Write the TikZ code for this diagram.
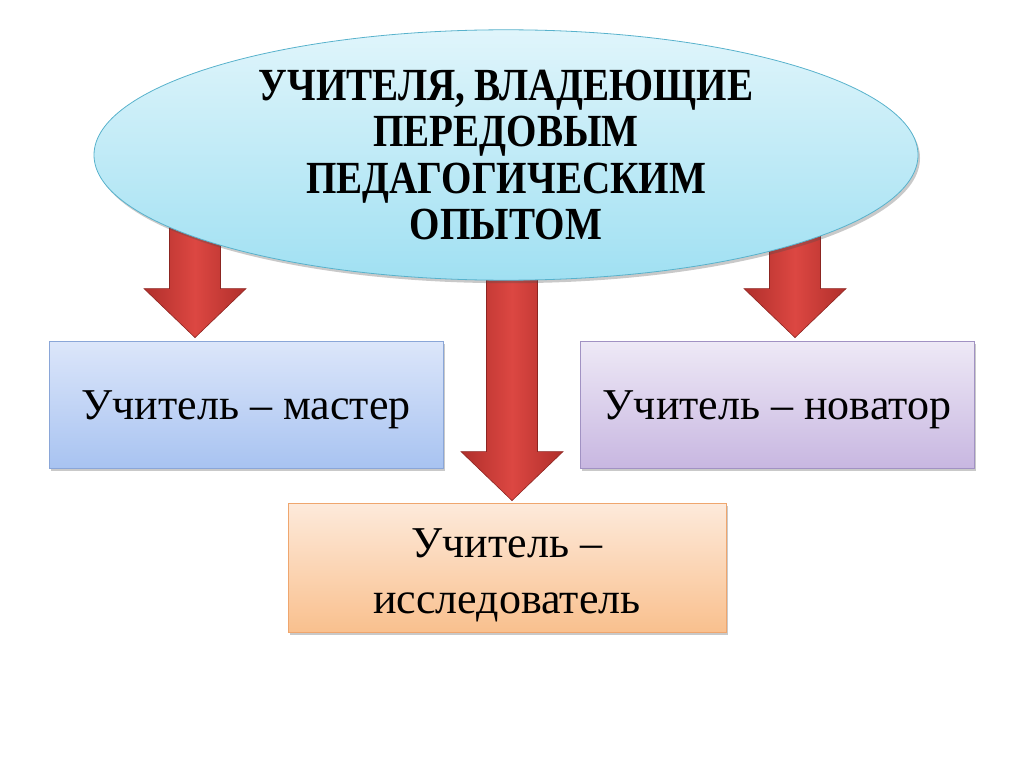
\documentclass[tikz,border=0pt]{standalone}
\usepackage{fontspec}
\setmainfont{Liberation Serif}
\newfontfamily\headfont{Liberation Serif}[FakeStretch=0.85]
\usetikzlibrary{shapes.geometric,shadows,calc,backgrounds}
\definecolor{elltop}{HTML}{E0F5FB}
\definecolor{ellbot}{HTML}{A0E0F2}
\definecolor{elledge}{HTML}{58B2CC}
\definecolor{bluetop}{HTML}{DCE6FA}
\definecolor{bluebot}{HTML}{A8C3F1}
\definecolor{blueedge}{HTML}{8AA6D8}
\definecolor{violtop}{HTML}{EEE9F6}
\definecolor{violbot}{HTML}{C8B7E1}
\definecolor{violedge}{HTML}{A192C3}
\definecolor{orgtop}{HTML}{FDEADB}
\definecolor{orgbot}{HTML}{F9C08E}
\definecolor{orgedge}{HTML}{EFA66E}
\definecolor{arrdark}{HTML}{B02F2B}
\definecolor{arrlight}{HTML}{DC4742}
\definecolor{arredge}{HTML}{8C2521}
\newcommand{\blockarrow}[2]{%
  \path[redarrow] let \p1=(#1), \p2=(#2) in
    (\x2-25.5pt,\y1) -- (\x2+25.5pt,\y1) -- (\x2+25.5pt,\y2+49pt)
    -- (\x2+51pt,\y2+49pt) -- (\x2,\y2) -- (\x2-51pt,\y2+49pt)
    -- (\x2-25.5pt,\y2+49pt) -- cycle;}
\newcommand{\tallstrut}[1]{\rule{0pt}{#1}}
\begin{document}
\begin{tikzpicture}[x=1pt,y=-1pt,
  softshadow/.style={drop shadow={shadow xshift=2pt,shadow yshift=-3pt,opacity=0.3,fill=black!70}},
  topell/.style={ellipse,minimum width=824pt,minimum height=240pt,
    top color=elltop,bottom color=ellbot,draw=elledge,line width=0.8pt,
    align=center,softshadow,
    font=\headfont\bfseries\fontsize{46}{46.5}\selectfont},
  kindbox/.style={rectangle,draw,line width=0.8pt,align=center,softshadow,
    inner sep=0pt,font=\fontsize{44}{56}\selectfont},
  redarrow/.style={left color=arrdark,right color=arrdark,middle color=arrlight,
    draw=arredge,line width=0.6pt}]
\useasboundingbox (0,0) rectangle (1024,767);

\node[kindbox,minimum width=394pt,minimum height=127pt,
  top color=bluetop,bottom color=bluebot,draw=blueedge]
  (master) at (246,404.5) {\tallstrut{40pt}Учитель – мастер};
\node[kindbox,minimum width=394pt,minimum height=127pt,
  top color=violtop,bottom color=violbot,draw=violedge]
  (novator) at (777,404.5) {\tallstrut{40pt}Учитель – новатор};
\node[kindbox,minimum width=438pt,minimum height=129pt,
  top color=orgtop,bottom color=orgbot,draw=orgedge]
  (issled) at (507,567.5) {\tallstrut{45pt}Учитель –\\исследователь};

\node[topell] (top) at (506,155)
  {УЧИТЕЛЯ, ВЛАДЕЮЩИЕ\\ПЕРЕДОВЫМ\\ПЕДАГОГИЧЕСКИМ\\ОПЫТОМ};

\coordinate (tipm) at ([xshift=-51pt,yshift=3pt]master.north);
\coordinate (tipn) at ([xshift=18pt,yshift=3pt]novator.north);
\coordinate (tipi) at ([xshift=5pt,yshift=2pt]issled.north);

\begin{pgfonlayer}{background}
  \blockarrow{top.center}{tipm}
  \blockarrow{top.center}{tipi}
  \blockarrow{top.center}{tipn}
\end{pgfonlayer}
\end{tikzpicture}
\end{document}
